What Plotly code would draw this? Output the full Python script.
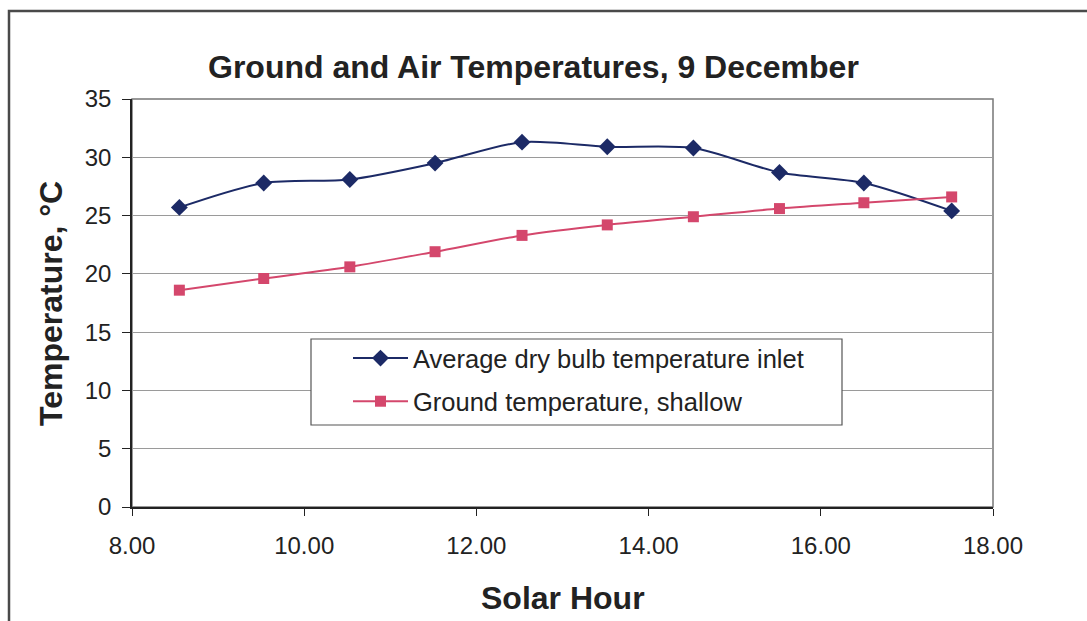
import plotly.graph_objects as go

# Solar hour of each reading
solar_hour = [8.55, 9.53, 10.53, 11.52, 12.53, 13.52, 14.52, 15.52, 16.50, 17.52]
# Average dry bulb temperature at the inlet, deg C
air_inlet = [25.7, 27.8, 28.1, 29.5, 31.3, 30.9, 30.8, 28.7, 27.8, 25.4]
# Ground temperature at shallow depth, deg C
ground_shallow = [18.6, 19.6, 20.6, 21.9, 23.3, 24.2, 24.9, 25.6, 26.1, 26.6]

x_ticks = [8, 10, 12, 14, 16, 18]
y_ticks = [0, 5, 10, 15, 20, 25, 30, 35]

W, H = 1087, 621
L, R, T, B = 132, 94, 99, 114
pw, ph = W - L - R, H - T - B

def px_x(p):
    return (p - L) / pw

def px_y(p):
    return 1 - (p - T) / ph

FONT = "Liberation Sans, Arial, sans-serif"
NAVY = "#1c2a66"
PINK = "#d4476c"
TEXT = "#222222"

fig = go.Figure()
fig.add_trace(go.Scatter(
    x=solar_hour, y=air_inlet, mode="lines+markers",
    name="Average dry bulb temperature inlet", legendgroup="a",
    line=dict(color=NAVY, width=2, shape="spline", smoothing=0.8),
    marker=dict(symbol="diamond", size=13, color=NAVY),
))
fig.add_trace(go.Scatter(
    x=solar_hour, y=ground_shallow, mode="lines+markers",
    name="Ground temperature, shallow", legendgroup="b",
    line=dict(color=PINK, width=2, shape="spline", smoothing=0.8),
    marker=dict(symbol="square", size=11, color=PINK),
))

fig.update_layout(
    width=W, height=H,
    margin=dict(l=L, r=R, t=T, b=B),
    paper_bgcolor="white", plot_bgcolor="white",
    font=dict(family=FONT, color=TEXT),
    showlegend=True,
    legend=dict(
        x=px_x(348), y=px_y(335), xanchor="left", yanchor="top",
        bgcolor="rgba(0,0,0,0)", borderwidth=0,
        font=dict(size=25.5, color=TEXT, family=FONT),
        itemwidth=55,
        tracegroupgap=7, traceorder="grouped",
    ),
    xaxis=dict(
        range=[8, 18], tickvals=x_ticks,
        ticktext=[f"{v:.2f}" for v in x_ticks],
        showgrid=False, zeroline=False,
        showline=True, linecolor=TEXT, linewidth=1.5,
        ticks="outside", ticklen=7, tickcolor=TEXT,
        ticklabelstandoff=9,
        tickfont=dict(size=24, color=TEXT),
    ),
    yaxis=dict(
        range=[0, 35], tickvals=y_ticks,
        showgrid=True, gridcolor="#9a9a9a", gridwidth=1,
        zeroline=False,
        showline=True, linecolor=TEXT, linewidth=1.5,
        ticks="outside", ticklen=8, tickcolor=TEXT,
        ticklabelstandoff=6,
        tickfont=dict(size=24, color=TEXT),
    ),
    shapes=[
        # plot area frame
        dict(type="rect", xref="paper", yref="paper", x0=0, x1=1, y0=0, y1=1,
             line=dict(color="#777777", width=1.5), layer="below"),
        # legend box
        dict(type="rect", xref="paper", yref="paper",
             x0=px_x(311), x1=px_x(842), y0=px_y(425), y1=px_y(339),
             fillcolor="white", line=dict(color="#555555", width=1.2),
             layer="above"),
        # outer chart frame
        dict(type="rect", xref="paper", yref="paper",
             x0=px_x(9), x1=px_x(1100), y0=px_y(640), y1=px_y(11),
             line=dict(color="#4a4a4a", width=2.5)),
    ],
    annotations=[
        dict(text="<b>Ground and Air Temperatures, 9 December</b>",
             xref="paper", yref="paper", x=px_x(533), y=px_y(67),
             xanchor="center", yanchor="middle", showarrow=False,
             font=dict(size=32, color=TEXT)),
        dict(text="<b>Solar Hour</b>",
             xref="paper", yref="paper", x=px_x(563), y=px_y(598),
             xanchor="center", yanchor="middle", showarrow=False,
             font=dict(size=32, color=TEXT)),
        dict(text="<b>Temperature, °C</b>", textangle=-90,
             xref="paper", yref="paper", x=px_x(51), y=px_y(304),
             xanchor="center", yanchor="middle", showarrow=False,
             font=dict(size=32, color=TEXT)),
    ],
)

fig.write_html("out.html")
